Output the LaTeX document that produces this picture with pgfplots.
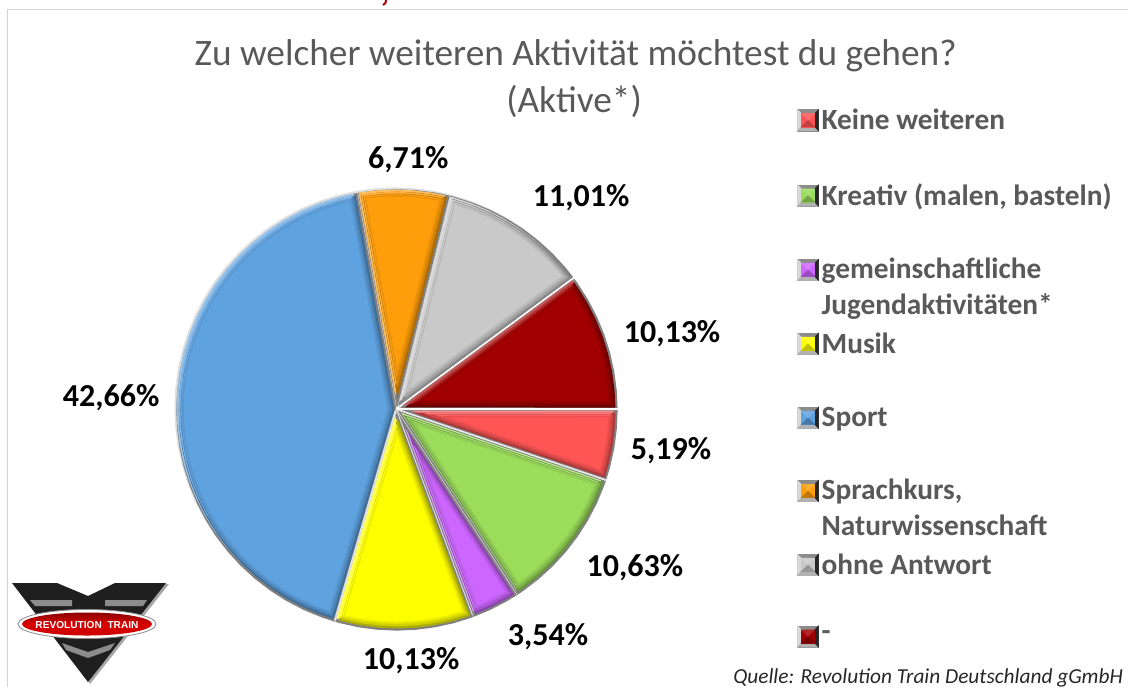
\documentclass[border=0pt]{standalone}
\usepackage{fontspec}
\setmainfont{Carlito}
\newfontfamily\logofont{Liberation Sans}
\usepackage{pgfplots}
\usepackage{pgfplotstable}
\pgfplotsset{compat=1.18}
\usepgfplotslibrary{polar}
\definecolor{txt}{HTML}{595959}
\definecolor{cPink}{HTML}{FF5555}
\definecolor{cGreen}{HTML}{9BDC5A}
\definecolor{cPurple}{HTML}{CC66FF}
\definecolor{cYellow}{HTML}{FFFF00}
\definecolor{cBlue}{HTML}{5FA2E0}
\definecolor{cOrange}{HTML}{FF9E0B}
\definecolor{cGray}{HTML}{C9C9C9}
\definecolor{cRed}{HTML}{A00000}

\pgfplotstableread{
a r
350.66 0
341.32 1
345 1
350 1
355 1
360 1
}\tPink
\pgfplotstableread{
a r
322.185 0
303.05 1
305 1
310 1
315 1
320 1
325 1
330 1
335 1
340 1
341.32 1
}\tGreen
\pgfplotstableread{
a r
296.675 0
290.3 1
295 1
300 1
303.05 1
}\tPurple
\pgfplotstableread{
a r
272.065 0
253.83 1
255 1
260 1
265 1
270 1
275 1
280 1
285 1
290 1
290.3 1
}\tYellow
\pgfplotstableread{
a r
177.04 0
100.25 1
105 1
110 1
115 1
120 1
125 1
130 1
135 1
140 1
145 1
150 1
155 1
160 1
165 1
170 1
175 1
180 1
185 1
190 1
195 1
200 1
205 1
210 1
215 1
220 1
225 1
230 1
235 1
240 1
245 1
250 1
253.83 1
}\tBlue
\pgfplotstableread{
a r
88.175 0
76.1 1
80 1
85 1
90 1
95 1
100 1
100.25 1
}\tOrange
\pgfplotstableread{
a r
56.275 0
36.45 1
40 1
45 1
50 1
55 1
60 1
65 1
70 1
75 1
76.1 1
}\tGray
\pgfplotstableread{
a r
18.225 0
0 1
5 1
10 1
15 1
20 1
25 1
30 1
35 1
36.45 1
}\tRed
\pgfplotstableread{
a r val
352 1.261 5,19
327 1.294 10,63
304.2 1.231 3,54
273.7 1.129 10,13
177.2 1.286 42,66
87 1.142 6,71
49 1.283 11,01
15.7 1.302 10,13
}\tLabels

% #1 table, #2 mid angle, #3 half angle, #4 inset in px, #5 colour, #6 extra
\newcommand\layer[6]{\addplot[forget plot,draw=none,fill=#5,#6] table[x expr={#2+(\thisrow{a}-#2)*(1-(#4/221*57.3)/#3)}, y expr={\thisrow{r}*(1-#4/221)+(1-\thisrow{r})*(#4/221/sin(#3))}] {#1};}
\newcommand\slice[4]{%
 \layer{#1}{#2}{#3}{0.3}{white!88!black}{xshift=-0.7pt,yshift=0.7pt}
 \layer{#1}{#2}{#3}{0.3}{black!50}{xshift=0.7pt,yshift=-0.7pt}
 \layer{#1}{#2}{#3}{2.6}{#4!65!white}{xshift=-.8pt,yshift=.8pt}
 \layer{#1}{#2}{#3}{2.6}{#4!68!black}{xshift=.8pt,yshift=-.8pt}
 \layer{#1}{#2}{#3}{4.6}{#4!80!white}{xshift=-.6pt,yshift=.6pt}
 \layer{#1}{#2}{#3}{4.6}{#4!82!black}{xshift=.6pt,yshift=-.6pt}
 \layer{#1}{#2}{#3}{6.6}{#4!92!white}{xshift=-.3pt,yshift=.3pt}
 \layer{#1}{#2}{#3}{6.6}{#4!92!black}{xshift=.3pt,yshift=-.3pt}
 \layer{#1}{#2}{#3}{8.5}{#4}{}
}
\newcommand\swatch[1]{\addlegendimage{legend image code/.code={
  \begin{scope}[xshift=-1.5pt]
  \fill[black!45] (0pt,-8pt) rectangle (16pt,8pt);
  \fill[white!85!black] (0pt,-8pt) -- (3pt,-5pt) -- (3pt,5pt) -- (0pt,8pt) -- cycle;
  \fill[white!70!black] (0pt,-8pt) -- (3pt,-5pt) -- (13pt,-5pt) -- (16pt,-8pt) -- cycle;
  \fill[black!85] (16pt,-8pt) -- (13pt,-5pt) -- (13pt,5pt) -- (16pt,8pt) -- cycle;
  \fill[#1] (3pt,-5pt) rectangle (13pt,5pt);
  \fill[#1!75!black] (3pt,-5pt) -- (8pt,0pt) -- (13pt,-5pt) -- cycle;
  \fill[#1!85!white] (3pt,5pt) -- (8pt,0pt) -- (13pt,5pt) -- cycle;
  \end{scope}
}}}

\begin{document}
\begin{tikzpicture}[x=0.75pt,y=-0.75pt]
\path[use as bounding box] (0,0) rectangle (1128,687);
% frame
\draw[black!18,line width=1.2pt] (7.5,687) -- (7.5,9.5) -- (1128,9.5);
\draw[red!70!black,line width=1.5pt] (386,0) -- (385.5,3) -- (383,5);
% title
\node[text=txt,font=\fontsize{28pt}{32pt}\selectfont] at (575.5,56) {Zu welcher weiteren Aktivität möchtest du gehen?};
\node[text=txt,font=\fontsize{28pt}{32pt}\selectfont] at (574,101) {(Aktive*)};
% source
\node[anchor=base west,inner sep=0pt,font=\fontsize{16pt}{18pt}\itshape\selectfont,text=black!85] at (733,683) {Quelle: Revolution Train Deutschland gGmbH};
% logo
\fill[black!35] (117,584) -- (169,584) -- (90,684) -- (88,680) -- cycle;
\fill[black!88] (12,583) -- (57,583) -- (88,596) -- (115,583) -- (166,583) -- (88,682) -- cycle;
\fill[black!45] (30,600) -- (72,600) -- (72,606) -- (35,606) -- cycle;
\fill[black!45] (105,600) -- (147,600) -- (143,606) -- (105,606) -- cycle;
\fill[black!45] (62,643) -- (88,652) -- (115,643) -- (110,650) -- (88,658) -- (66,650) -- cycle;
\fill[white] (87,624) ellipse (69 and 14.5);
\draw[black!45,line width=.6pt] (87,624) ellipse (69 and 14.5);
\shade[top color=red!55!black,bottom color=red!80!black,middle color=red!85!black] (87,624) ellipse (65 and 11.5);
\node[text=white,inner sep=0pt,font=\logofont\fontsize{7.6pt}{9pt}\bfseries\selectfont] at (87,624.5) {REVOLUTION\ \ TRAIN};
% pie
\begin{polaraxis}[
  at={(297pt,-306.75pt)},anchor=center,
  scale only axis,width=331.5pt,height=331.5pt,
  xmin=0,xmax=360,ymin=0,ymax=1,
  hide axis,clip=false,
  legend cell align=left,
  legend style={at={(1.4075,1.185)},anchor=north west,draw=none,fill=none,
    text=txt,font=\fontsize{22pt}{27pt}\bfseries\selectfont,
    row sep=35.05pt,inner sep=0pt,outer sep=0pt,
    /tikz/every even column/.append style={column sep=5.5pt}},
]
\slice{\tRed}{18.225}{18.225}{cRed}
\slice{\tGray}{56.275}{19.825}{cGray}
\slice{\tOrange}{88.175}{12.075}{cOrange}
\slice{\tBlue}{177.04}{76.79}{cBlue}
\slice{\tYellow}{272.065}{18.235}{cYellow}
\slice{\tPurple}{296.675}{6.375}{cPurple}
\slice{\tGreen}{322.185}{19.135}{cGreen}
\slice{\tPink}{350.66}{9.34}{cPink}
\addplot[forget plot,white,line width=1.1pt] coordinates {(36.45,0) (36.45,1.005)};
\addplot[forget plot,white,line width=1.1pt] coordinates {(0,0) (0,1.005)};
\addplot[forget plot,white!92!black,line width=1.1pt] coordinates {(341.32,0) (341.32,1.005)};
\addplot[forget plot,draw=none,mark=none,
  nodes near coords={\pgfplotspointmeta\%},
  point meta=explicit symbolic,
  every node near coord/.style={anchor=center,yshift=-2.2pt,xshift=-.7pt,font=\fontsize{24pt}{28pt}\bfseries\selectfont,text=black}]
  table[x=a,y=r,meta=val] {\tLabels};
\swatch{cPink}\addlegendentry{Keine weiteren}
\swatch{cGreen}\addlegendentry{Kreativ (malen, basteln)}
\swatch{cPurple}\addlegendentry{\vphantom{Kg}\smash{\begin{tabular}[t]{@{}l@{}}gemeinschaftliche\\[0pt]Jugendaktivitäten*\end{tabular}}}
\swatch{cYellow}\addlegendentry{Musik}
\swatch{cBlue}\addlegendentry{Sport}
\swatch{cOrange}\addlegendentry{\vphantom{Kg}\smash{\begin{tabular}[t]{@{}l@{}}Sprachkurs,\\[0pt]Naturwissenschaft\end{tabular}}}
\swatch{cGray}\addlegendentry{ohne Antwort}
\swatch{cRed}\addlegendentry{-}
\end{polaraxis}
\end{tikzpicture}
\end{document}
